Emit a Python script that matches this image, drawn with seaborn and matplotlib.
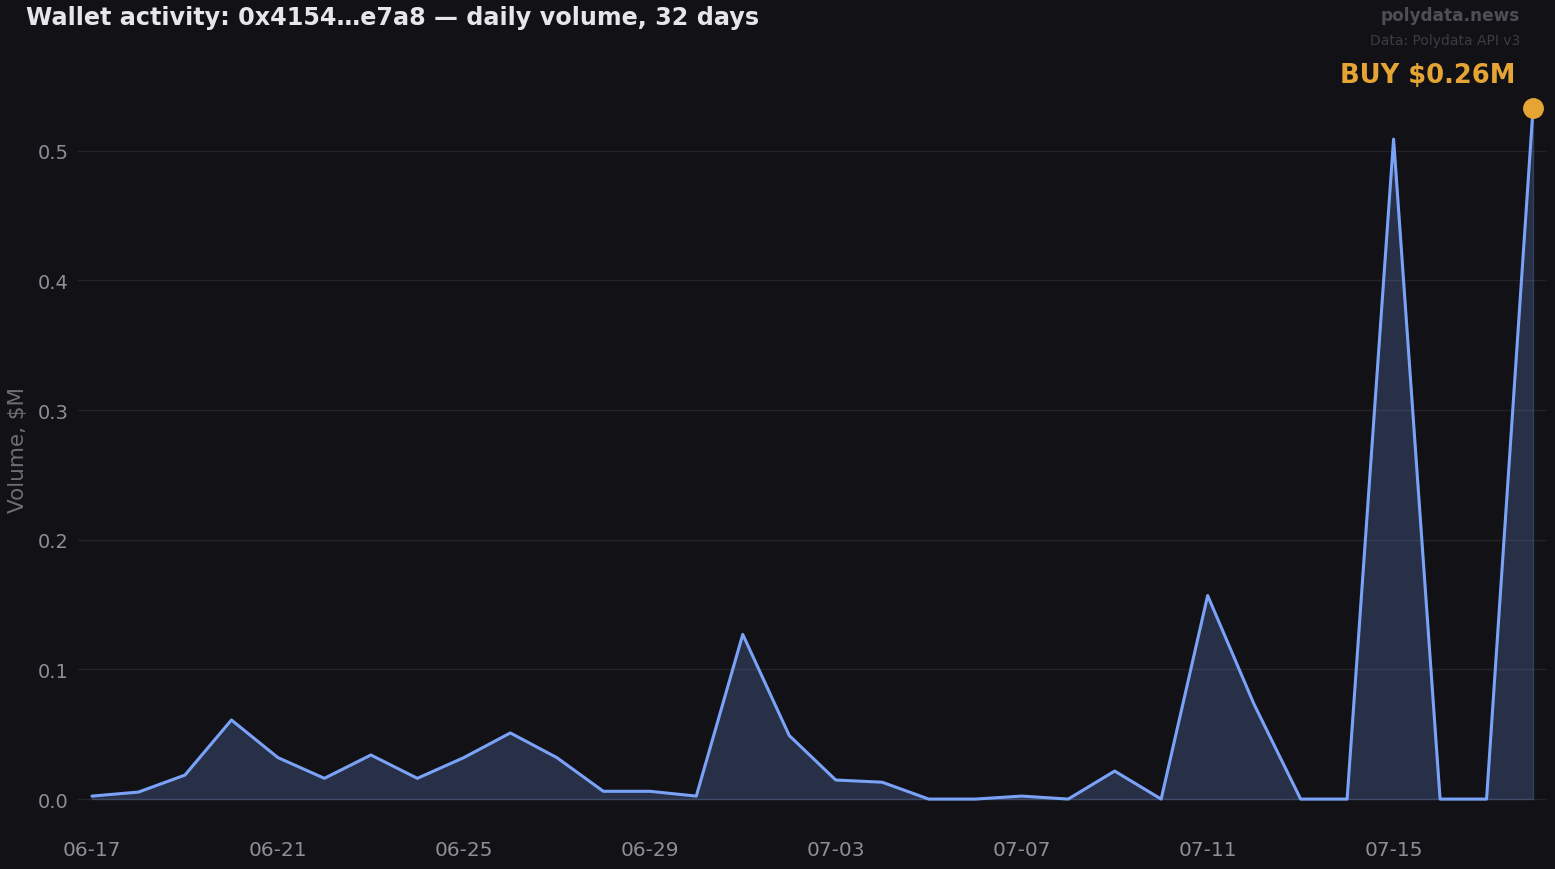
import numpy as np
import pandas as pd
import matplotlib
matplotlib.use("Agg")
import matplotlib.pyplot as plt
import matplotlib.dates as mdates
import seaborn as sns

# ---- data ----
start_date = "2024-06-17"
n_days = 32
volume_m = [0.0023, 0.0054, 0.0185, 0.061, 0.032, 0.016, 0.034, 0.016,
            0.032, 0.051, 0.032, 0.006, 0.006, 0.0023, 0.127, 0.049,
            0.0147, 0.013, 0.0, 0.0, 0.0023, 0.0, 0.0216, 0.0,
            0.157, 0.073, 0.0, 0.0, 0.509, 0.0, 0.0, 0.533]
title = "Wallet activity: 0x4154\u2026e7a8 \u2014 daily volume, 32 days"
brand = "polydata.news"
source = "Data: Polydata API v3"
last_label = "BUY \\$0.26M"
y_label = "Volume, \\$M"

dates = pd.date_range(start_date, periods=n_days, freq="D")
df = pd.DataFrame({"date": dates, "volume": volume_m})

BG = "#111116"
LINE = "#7aa2f7"
FILL = "#7aa2f7"
ORANGE = "#e5a535"
GRID = "#232329"
TICK = "#8e8e94"

sns.set_theme(style="dark")
plt.rcParams["font.family"] = ["DejaVu Sans"]

fig = plt.figure(figsize=(15.55, 8.7), dpi=100, facecolor=BG)
ax = fig.add_axes([78 / 1555, 44 / 870, (1547 - 78) / 1555, (826 - 74) / 870])
ax.set_facecolor(BG)

ax.fill_between(df["date"], df["volume"], 0, color=FILL, alpha=0.22, lw=1)
sns.lineplot(data=df, x="date", y="volume", ax=ax, color=LINE, lw=2.2)
ax.plot(df["date"].iloc[-1], df["volume"].iloc[-1], "o", color=ORANGE,
        ms=14, zorder=5, clip_on=False)
ax.annotate(last_label, xy=(df["date"].iloc[-1], df["volume"].iloc[-1]),
            xytext=(-13, 24), textcoords="offset points", ha="right",
            va="center", color=ORANGE, fontsize=18.5, fontweight="bold")

ax.set_xlim(dates[0] - pd.Timedelta(days=0.3), dates[-1] + pd.Timedelta(days=0.3))
ax.set_ylim(-0.02, 0.56)
ax.set_yticks([0.0, 0.1, 0.2, 0.3, 0.4, 0.5])
ax.yaxis.set_major_formatter(matplotlib.ticker.FormatStrFormatter("%.1f"))
ax.set_xticks(dates[::4])
ax.xaxis.set_major_formatter(mdates.DateFormatter("%m-%d"))
ax.tick_params(axis="x", length=0, pad=10.5, labelsize=14.5, labelcolor=TICK)
ax.tick_params(axis="y", length=0, pad=6.5, labelsize=14, labelcolor=TICK)
ax.grid(axis="y", color=GRID, lw=1)
ax.grid(axis="x", visible=False)
for s in ax.spines.values():
    s.set_visible(False)
ax.set_xlabel("")
ax.set_ylabel(y_label, color="#6e6e74", fontsize=15.5)
ax.yaxis.set_label_coords(-0.034, 0.5)

fig.text(26 / 1555, 1 - 18 / 870, title, ha="left", va="center",
         color="#e6e6ea", fontsize=17.2, fontweight="bold")
fig.text(1520 / 1555, 1 - 16 / 870, brand, ha="right", va="center",
         color="#4e4e54", fontsize=12.2, fontweight="bold")
fig.text(1520 / 1555, 1 - 41 / 870, source, ha="right", va="center",
         color="#3c3c42", fontsize=10)

fig.savefig("out.png", dpi=100, facecolor=BG)
